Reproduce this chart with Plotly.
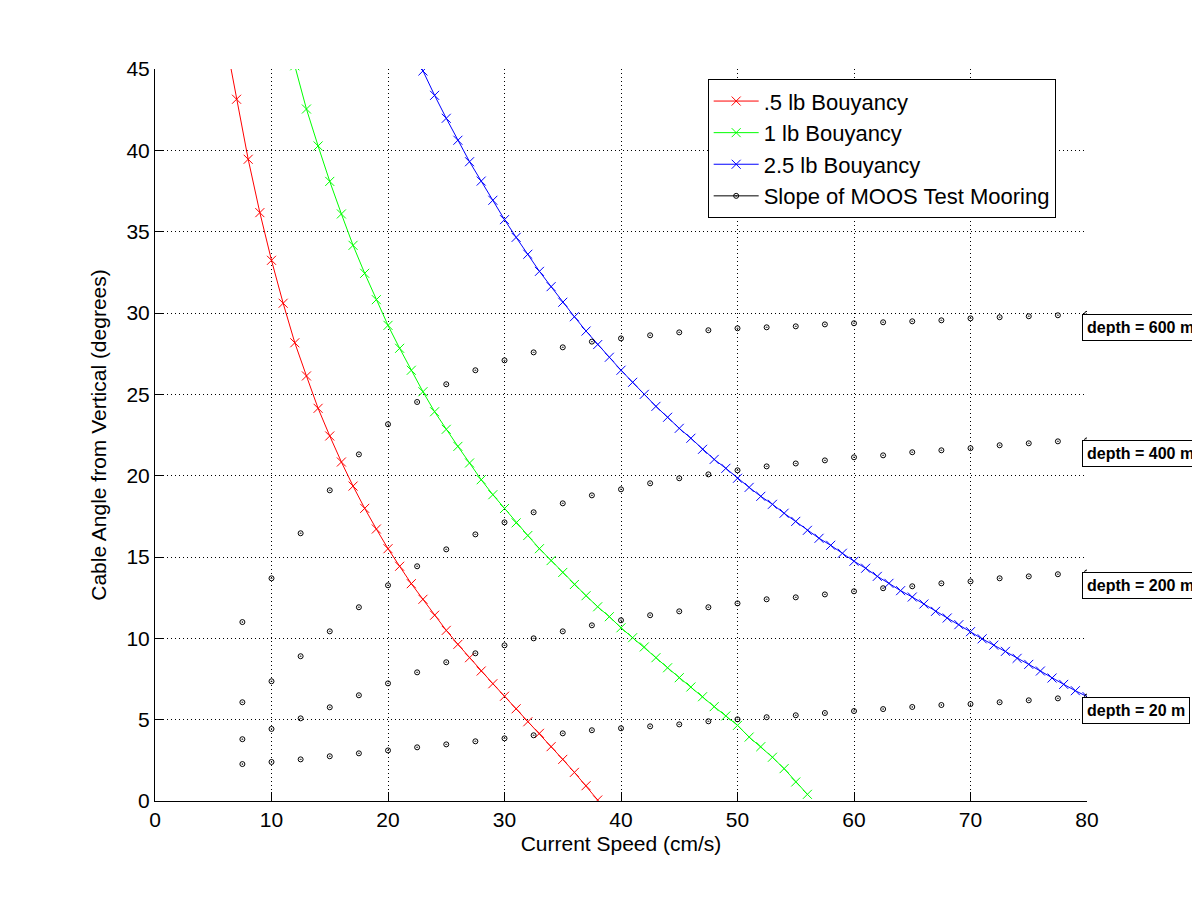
"""
Cable angle vs current speed for the MOOS test mooring
"""

import plotly.graph_objects as go

# current speed (cm/s) for each buoyancy curve
speed_05lb = [6, 7, 8, 9, 10, 11, 12, 13, 14, 15, 16, 17, 18, 19, 20, 21, 22,
              23, 24, 25, 26, 27, 28, 29, 30, 31, 32, 33, 34, 35, 36, 37, 38]
angle_05lb = [47.0, 43.14, 39.45, 36.17, 33.24, 30.6, 28.17, 26.13, 24.14, 22.44,
              20.84, 19.36, 17.99, 16.72, 15.51, 14.43, 13.36, 12.4, 11.42, 10.49,
              9.63, 8.81, 7.99, 7.21, 6.44, 5.67, 4.87, 4.16, 3.34, 2.56, 1.76,
              0.94, 0.06]

speed_1lb = [12, 13, 14, 15, 16, 17, 18, 19, 20, 21, 22, 23, 24, 25, 26, 27, 28,
             29, 30, 31, 32, 33, 34, 35, 36, 37, 38, 39, 40, 41, 42, 43, 44, 45,
             46, 47, 48, 49, 50, 51, 52, 53, 54, 55, 56]
angle_1lb = [45.2, 42.54, 40.27, 38.09, 36.09, 34.16, 32.44, 30.82, 29.24, 27.83,
             26.48, 25.16, 23.93, 22.85, 21.8, 20.78, 19.75, 18.83, 17.98, 17.1,
             16.32, 15.51, 14.78, 14.05, 13.31, 12.62, 11.94, 11.33, 10.65, 10.04,
             9.47, 8.81, 8.19, 7.58, 7.01, 6.41, 5.8, 5.23, 4.65, 3.93, 3.34, 2.69,
             1.99, 1.17, 0.41]

speed_25lb = [22, 23, 24, 25, 26, 27, 28, 29, 30, 31, 32, 33, 34, 35, 36, 37, 38,
              39, 40, 41, 42, 43, 44, 45, 46, 47, 48, 49, 50, 51, 52, 53, 54, 55,
              56, 57, 58, 59, 60, 61, 62, 63, 64, 65, 66, 67, 68, 69, 70, 71, 72,
              73, 74, 75, 76, 77, 78, 79, 80]
angle_25lb = [46.4, 44.88, 43.38, 41.97, 40.62, 39.3, 38.11, 36.93, 35.74, 34.65,
              33.61, 32.56, 31.62, 30.66, 29.77, 28.89, 28.06, 27.28, 26.48, 25.74,
              25.0, 24.26, 23.59, 22.91, 22.3, 21.62, 21.0, 20.45, 19.84, 19.28,
              18.73, 18.24, 17.69, 17.19, 16.64, 16.15, 15.72, 15.23, 14.74, 14.31,
              13.81, 13.38, 12.93, 12.54, 12.11, 11.66, 11.25, 10.84, 10.41, 9.97,
              9.58, 9.2, 8.77, 8.4, 7.99, 7.56, 7.17, 6.78, 6.42]

# measured slope of the MOOS test mooring at four depths
speed_moos = [7.5, 10, 12.5, 15, 17.5, 20, 22.5, 25, 27.5, 30,
              32.5, 35, 37.5, 40, 42.5, 45, 47.5, 50, 52.5, 55,
              57.5, 60, 62.5, 65, 67.5, 70, 72.5, 75, 77.5, 80]
moos_20m = [2.27, 2.40, 2.56, 2.75, 2.93, 3.11, 3.30, 3.48, 3.67, 3.85,
            4.04, 4.16, 4.35, 4.47, 4.59, 4.71, 4.90, 5.02, 5.15, 5.27,
            5.41, 5.53, 5.65, 5.78, 5.90, 5.96, 6.07, 6.19, 6.31, 6.42]
moos_200m = [3.80, 4.43, 5.08, 5.76, 6.50, 7.23, 7.91, 8.53, 9.08, 9.57,
             10.00, 10.43, 10.80, 11.11, 11.42, 11.66, 11.91, 12.15, 12.40, 12.52,
             12.70, 12.89, 13.08, 13.20, 13.38, 13.50, 13.69, 13.81, 13.94, 14.05]
moos_400m = [6.07, 7.36, 8.90, 10.43, 11.91, 13.26, 14.43, 15.47, 16.39, 17.13,
             17.75, 18.30, 18.79, 19.16, 19.53, 19.84, 20.08, 20.33, 20.57, 20.75,
             20.94, 21.13, 21.25, 21.44, 21.56, 21.69, 21.87, 21.99, 22.11, 22.17]
moos_600m = [11.00, 13.69, 16.46, 19.10, 21.31, 23.16, 24.53, 25.62, 26.48, 27.09,
             27.58, 27.89, 28.24, 28.44, 28.63, 28.81, 28.94, 29.06, 29.12, 29.18,
             29.30, 29.37, 29.43, 29.49, 29.55, 29.67, 29.74, 29.80, 29.86, 29.95]

depth_labels = ["depth = 20 m", "depth = 200 m", "depth = 400 m", "depth = 600 m"]
depth_series = [moos_20m, moos_200m, moos_400m, moos_600m]

FONT = "Liberation Sans, Arial, sans-serif"

fig = go.Figure()

curves = [
    (speed_05lb, angle_05lb, ".5 lb Bouyancy", "#ff0000"),
    (speed_1lb, angle_1lb, "1 lb Bouyancy", "#00ff00"),
    (speed_25lb, angle_25lb, "2.5 lb Bouyancy", "#0000ff"),
]
for xs, ys, name, color in curves:
    fig.add_trace(go.Scatter(
        x=xs, y=ys, name=name, mode="lines+markers",
        line=dict(color=color, width=1),
        marker=dict(symbol="x-thin", size=9, line=dict(color=color, width=1)),
    ))

# dots only on the plot, but the legend shows line + marker like the original
for ys in depth_series:
    fig.add_trace(go.Scatter(
        x=speed_moos, y=ys, mode="markers", showlegend=False,
        marker=dict(symbol="circle-open-dot", size=5, color="black",
                    line=dict(color="black", width=1)),
    ))
fig.add_trace(go.Scatter(
    x=[None], y=[None], mode="lines+markers", name="Slope of MOOS Test Mooring",
    line=dict(color="black", width=1),
    marker=dict(symbol="circle-open-dot", size=5, color="black",
                line=dict(color="black", width=1)),
))

for label, ys in zip(depth_labels, depth_series):
    fig.add_annotation(
        x=speed_moos[-1], y=ys[-1], xref="x", yref="y",
        text=label, showarrow=False, xanchor="left", yanchor="top",
        xshift=-5, bgcolor="white", bordercolor="black", borderwidth=1,
        borderpad=4, font=dict(family=FONT, size=16, color="black", weight="bold"),
    )

axis_style = dict(
    showline=True, linecolor="black", linewidth=1, mirror=False,
    ticks="inside", ticklen=9, tickcolor="black", tickwidth=1,
    showgrid=True, gridcolor="black", gridwidth=1, griddash="1px,3px",
    zeroline=False, tickfont=dict(family=FONT, size=21, color="black"),
)

fig.update_xaxes(range=[0, 80], dtick=10, tick0=0,
                 title=dict(text="Current Speed (cm/s)", standoff=6,
                            font=dict(family=FONT, size=21, color="black")),
                 **axis_style)
fig.update_yaxes(range=[0, 45], dtick=5, tick0=0,
                 title=dict(text="Cable Angle from Vertical (degrees)", standoff=14,
                            font=dict(family=FONT, size=21, color="black")),
                 **axis_style)

# the page body adds 8px, so the margins are trimmed to keep the axes where they were
fig.update_layout(
    width=1200, height=900, autosize=False,
    margin=dict(l=147, r=121, t=61, b=107),
    plot_bgcolor="white", paper_bgcolor="white",
    font=dict(family=FONT, size=21, color="black"),
    legend=dict(x=0.593, y=0.986, xanchor="left", yanchor="top",
                bgcolor="white", bordercolor="black", borderwidth=1,
                itemwidth=45,
                font=dict(family=FONT, size=22, color="black")),
)

fig.write_html("out.html")
